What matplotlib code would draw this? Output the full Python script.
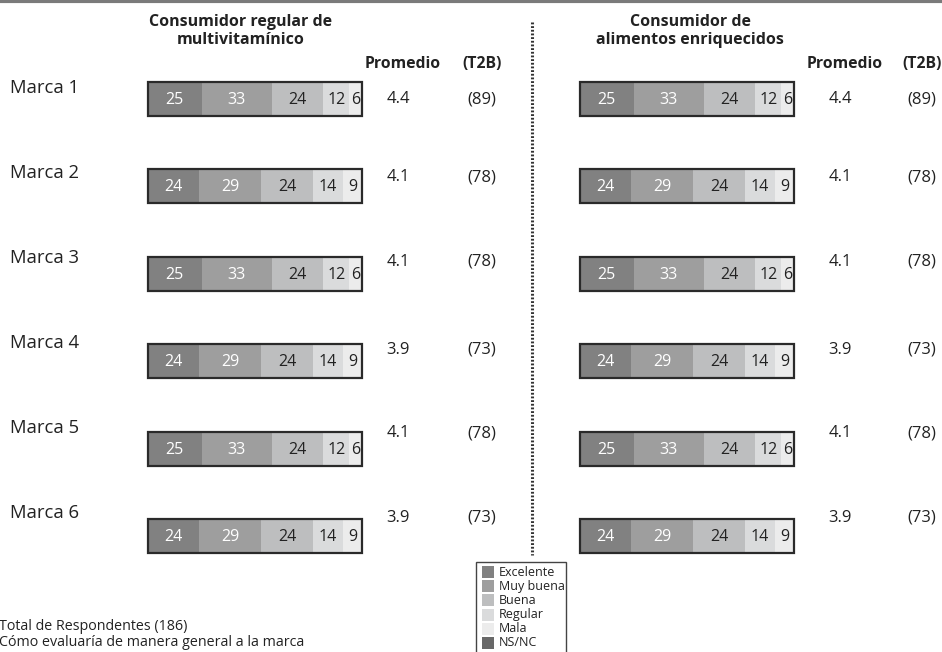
import matplotlib
matplotlib.use("Agg")
import matplotlib.pyplot as plt

plt.rcParams['font.family'] = ['Open Sans', 'DejaVu Sans']

brands = ["Marca 1", "Marca 2", "Marca 3", "Marca 4", "Marca 5", "Marca 6"]
categories = ["Excelente", "Muy buena", "Buena", "Regular", "Mala", "NS/NC"]
colors = ["#818181", "#9e9e9e", "#bdbebf", "#dadbdc", "#ececec", "#686868"]
text_colors = ["white", "white", "#222222", "#222222", "#222222"]

# shares per brand (Excelente, Muy buena, Buena, Regular, Mala)
vitamin_shares = [
    [25, 33, 24, 12, 6],
    [24, 29, 24, 14, 9],
    [25, 33, 24, 12, 6],
    [24, 29, 24, 14, 9],
    [25, 33, 24, 12, 6],
    [24, 29, 24, 14, 9],
]
vitamin_avg = ["4.4", "4.1", "4.1", "3.9", "4.1", "3.9"]
vitamin_t2b = ["(89)", "(78)", "(78)", "(73)", "(78)", "(73)"]

fortified_shares = [
    [25, 33, 24, 12, 6],
    [24, 29, 24, 14, 9],
    [25, 33, 24, 12, 6],
    [24, 29, 24, 14, 9],
    [25, 33, 24, 12, 6],
    [24, 29, 24, 14, 9],
]
fortified_avg = ["4.4", "4.1", "4.1", "3.9", "4.1", "3.9"]
fortified_t2b = ["(89)", "(78)", "(78)", "(73)", "(78)", "(73)"]

# layout (pixels)
W, H = 942, 652
px_per_pct = 2.14
bar_y = [99 + 87.4 * i for i in range(6)]
label_y = [88 + 85 * i for i in range(6)]
value_y = [99, 177, 262, 350, 433, 518]

fig = plt.figure(figsize=(W / 100, H / 100), dpi=100)
ax = fig.add_axes([0, 0, 1, 1])
ax.set_xlim(0, W)
ax.set_ylim(H, 0)
ax.axis("off")

# top rule
ax.plot([0, W], [1, 1], color="#7a7a7a", lw=3, solid_capstyle="butt")


def draw_panel(x0, shares, avgs, t2bs, avg_x, t2b_x, title, title_x):
    for i, row in enumerate(shares):
        left = x0
        for j, v in enumerate(row):
            w = v * px_per_pct
            ax.barh(bar_y[i], w, left=left, height=34, color=colors[j],
                    edgecolor="none")
            ax.text(left + w / 2, bar_y[i] + 1, str(v), ha="center",
                    va="center", fontsize=11.5, color=text_colors[j])
            left += w
        ax.barh(bar_y[i], sum(row) * px_per_pct, left=x0, height=34,
                color="none", edgecolor="#2a2a2a", lw=1.6)
        ax.text(avg_x, value_y[i], avgs[i], ha="center", va="center",
                fontsize=12, color="#222222")
        ax.text(t2b_x, value_y[i], t2bs[i], ha="center", va="center",
                fontsize=12, color="#222222")
    ax.text(avg_x + 5, 64, "Promedio", ha="center", va="center",
            fontsize=11.3, fontweight="bold", color="#222222")
    ax.text(t2b_x, 64, "(T2B)", ha="center", va="center",
            fontsize=11.3, fontweight="bold", color="#222222")
    ax.text(title_x, 31, title, ha="center", va="center", fontsize=11.5,
            fontweight="bold", color="#222222", linespacing=1.1)


for i, b in enumerate(brands):
    ax.text(10, label_y[i], b, ha="left", va="center", fontsize=13.3,
            color="#222222")

draw_panel(148, vitamin_shares, vitamin_avg, vitamin_t2b, 398, 482,
           "Consumidor regular de\nmultivitamínico", 241)
draw_panel(580, fortified_shares, fortified_avg, fortified_t2b, 840, 922,
           "Consumidor de\nalimentos enriquecidos", 690)

# divider
ax.plot([532, 532], [22, 555], color="#333333", lw=2.2,
        linestyle=(0, (0.6, 0.6)))

# legend
ax.add_patch(plt.Rectangle((476, 562), 90, 95, facecolor="white",
                           edgecolor="#444444", lw=1))
for k in range(len(categories)):
    yk = 572 + 14.2 * k
    ax.add_patch(plt.Rectangle((482, yk - 6), 12, 12, facecolor=colors[k],
                               edgecolor="none"))
    ax.text(499, yk, categories[k], ha="left", va="center", fontsize=9,
            color="#222222")

# footnotes
ax.text(-1, 627, "Total de Respondentes (186)", ha="left", va="center",
        fontsize=10.3, color="#222222")
ax.text(-1, 642, "Cómo evaluaría de manera general a la marca", ha="left",
        va="center", fontsize=10.3, color="#222222")

fig.savefig("out.png", dpi=100)
